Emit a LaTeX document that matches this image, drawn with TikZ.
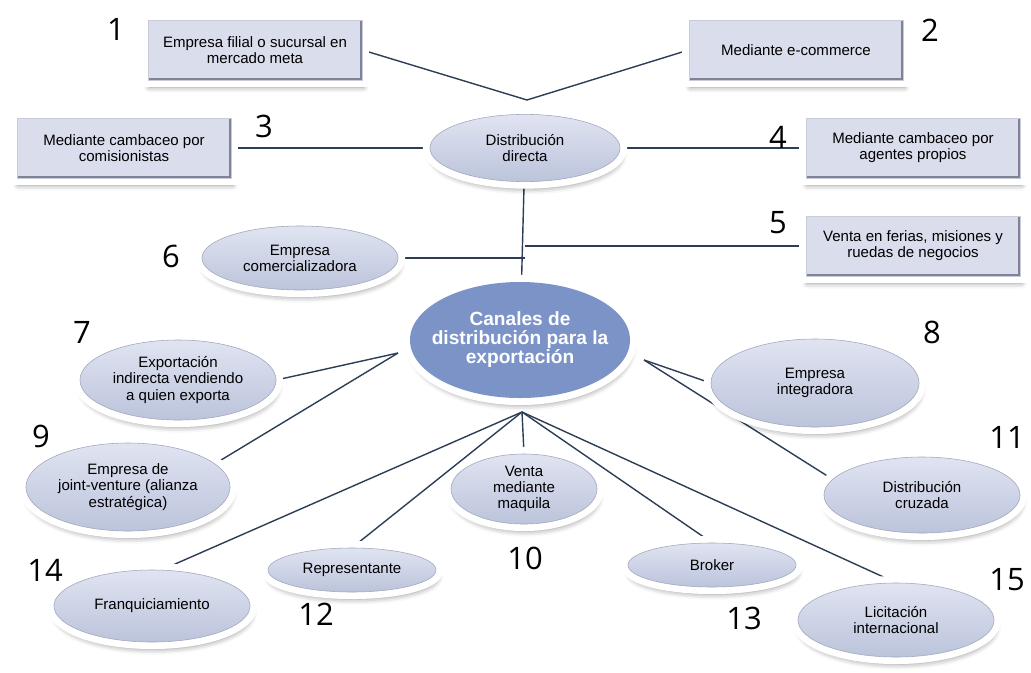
\documentclass[tikz,border=0pt]{standalone}
\usepackage{fontspec}
\setmainfont{Liberation Sans}
\newfontfamily\numfont{Open Sans}
\usepackage{tikz}
\usetikzlibrary{positioning,calc,backgrounds,shapes.geometric,shadows.blur}

\definecolor{boxfill}{HTML}{DADDEC}
\definecolor{boxedge}{HTML}{7E8398}
\definecolor{ovaltop}{HTML}{E0E4F2}
\definecolor{ovalbot}{HTML}{BCC4DB}
\definecolor{hubfill}{HTML}{7B93C7}
\definecolor{linkcol}{HTML}{2C3E55}

\begin{document}
\begin{tikzpicture}[
  x=0.025cm, y=-0.025cm,
  font=\fontsize{10.7}{11.5}\selectfont,
  halo/.style={
    blur shadow={shadow xshift=1pt, shadow yshift=-5pt, shadow blur radius=4pt, shadow opacity=45},
    preaction={draw=white, line width=10pt}
  },
  way/.style={
    rectangle, halo, fill=boxfill, draw=boxfill!92!black, line width=0.4pt,
    minimum width=5.35cm, minimum height=1.5cm, align=center, inner sep=0pt,
    path picture={\draw[boxedge, line width=2.4pt]
      (path picture bounding box.south west) -- (path picture bounding box.south east)
      -- (path picture bounding box.north east);}
  },
  oval/.style={
    ellipse, halo, top color=ovaltop, bottom color=ovalbot, draw=ovalbot!85!black,
    line width=0.4pt, align=center, inner sep=-3pt
  },
  hub/.style={
    ellipse, halo, fill=hubfill, align=center, inner xsep=-28pt, inner ysep=-2pt,
    text=white, font=\fontsize{13.6}{13.5}\selectfont\bfseries
  },
  num/.style={font=\fontsize{22}{22}\selectfont\numfont},
  link/.style={draw=linkcol, line width=1pt}
]
\useasboundingbox (0,0) rectangle (1031,672);

% --- Centre ---
\node[hub, minimum width=5.5cm, minimum height=2.9cm] (cc) at (520,340)
  {Canales de\\distribución para la\\exportación};

% --- Direct branch ---
\node[oval, minimum width=4.75cm, minimum height=1.68cm] (dd) at (525,148) {Distribución\\directa};
\node[way] (b1) at (255,50) {Empresa filial o sucursal en\\mercado meta};
\node[way] (b2) at (796,50) {Mediante e-commerce};
\node[way] (b3) at (124,148) {Mediante cambaceo por\\comisionistas};
\node[way] (b4) at (913,148) {Mediante cambaceo por\\agentes propios};
\node[way] (b5) at (913,246) {Venta en ferias, misiones y\\ruedas de negocios};
\node[oval, minimum width=4.9cm, minimum height=1.6cm] (n6) at (300,258) {Empresa\\comercializadora};

% --- Other channels ---
\node[oval, minimum width=4.9cm, minimum height=2.0cm] (n7) at (178,380) {Exportación\\indirecta vendiendo\\a quien exporta};
\node[oval, minimum width=5.2cm, minimum height=2.2cm] (n8) at (815,383) {Empresa\\integradora};
\node[oval, minimum width=5.1cm, minimum height=2.2cm] (n9) at (128,487) {Empresa de\\joint-venture (alianza\\estratégica)};
\node[oval, minimum width=3.65cm, minimum height=1.75cm] (n10) at (524,489) {Venta\\mediante\\maquila};
\node[oval, minimum width=4.9cm, minimum height=1.9cm] (n11) at (922,495) {Distribución\\cruzada};
\node[oval, minimum width=4.2cm, minimum height=1.1cm] (n12) at (352,570) {Representante};
\node[oval, minimum width=4.2cm, minimum height=1.1cm] (n13) at (712,565) {Broker};
\node[oval, minimum width=4.9cm, minimum height=1.8cm] (n14) at (152,606) {Franquiciamiento};
\node[oval, minimum width=4.9cm, minimum height=1.85cm] (n15) at (896,620) {Licitación\\internacional};

% --- Numbers ---
\foreach \k/\px/\py in {1/116/29, 2/930/30, 3/264/126, 4/778/137, 5/778/223, 6/171/256,
    7/82/332, 8/932/332, 9/41/436, 10/525/558, 11/1007/437, 12/316/614, 13/744/618,
    14/45/570, 15/1007/580}
  \node[num] (k\k) at (\px,\py) {\k};

% --- Connectors ---
\begin{scope}[on background layer]
  \coordinate (top) at (527,100);
  \coordinate (cl) at (398,353);
  \coordinate (cr) at (644,360);
  \coordinate (cb) at (522,412);
  \coordinate (j5) at (dd |- b5);
  \coordinate (j6) at (dd |- n6);
  \foreach \from/\to in {b1.east/top, b2.west/top, b3/dd, dd/b4, dd/cc, j5/b5, n6/j6,
      cl/n7.east, cl/n9.15, cr/n8.west, cr/n11.170,
      cb/n14.75, cb/n12.north, cb/n10.north, cb/n13.north, cb/n15.north}
    \draw[link] (\from) -- (\to);
\end{scope}

\end{tikzpicture}
\end{document}
